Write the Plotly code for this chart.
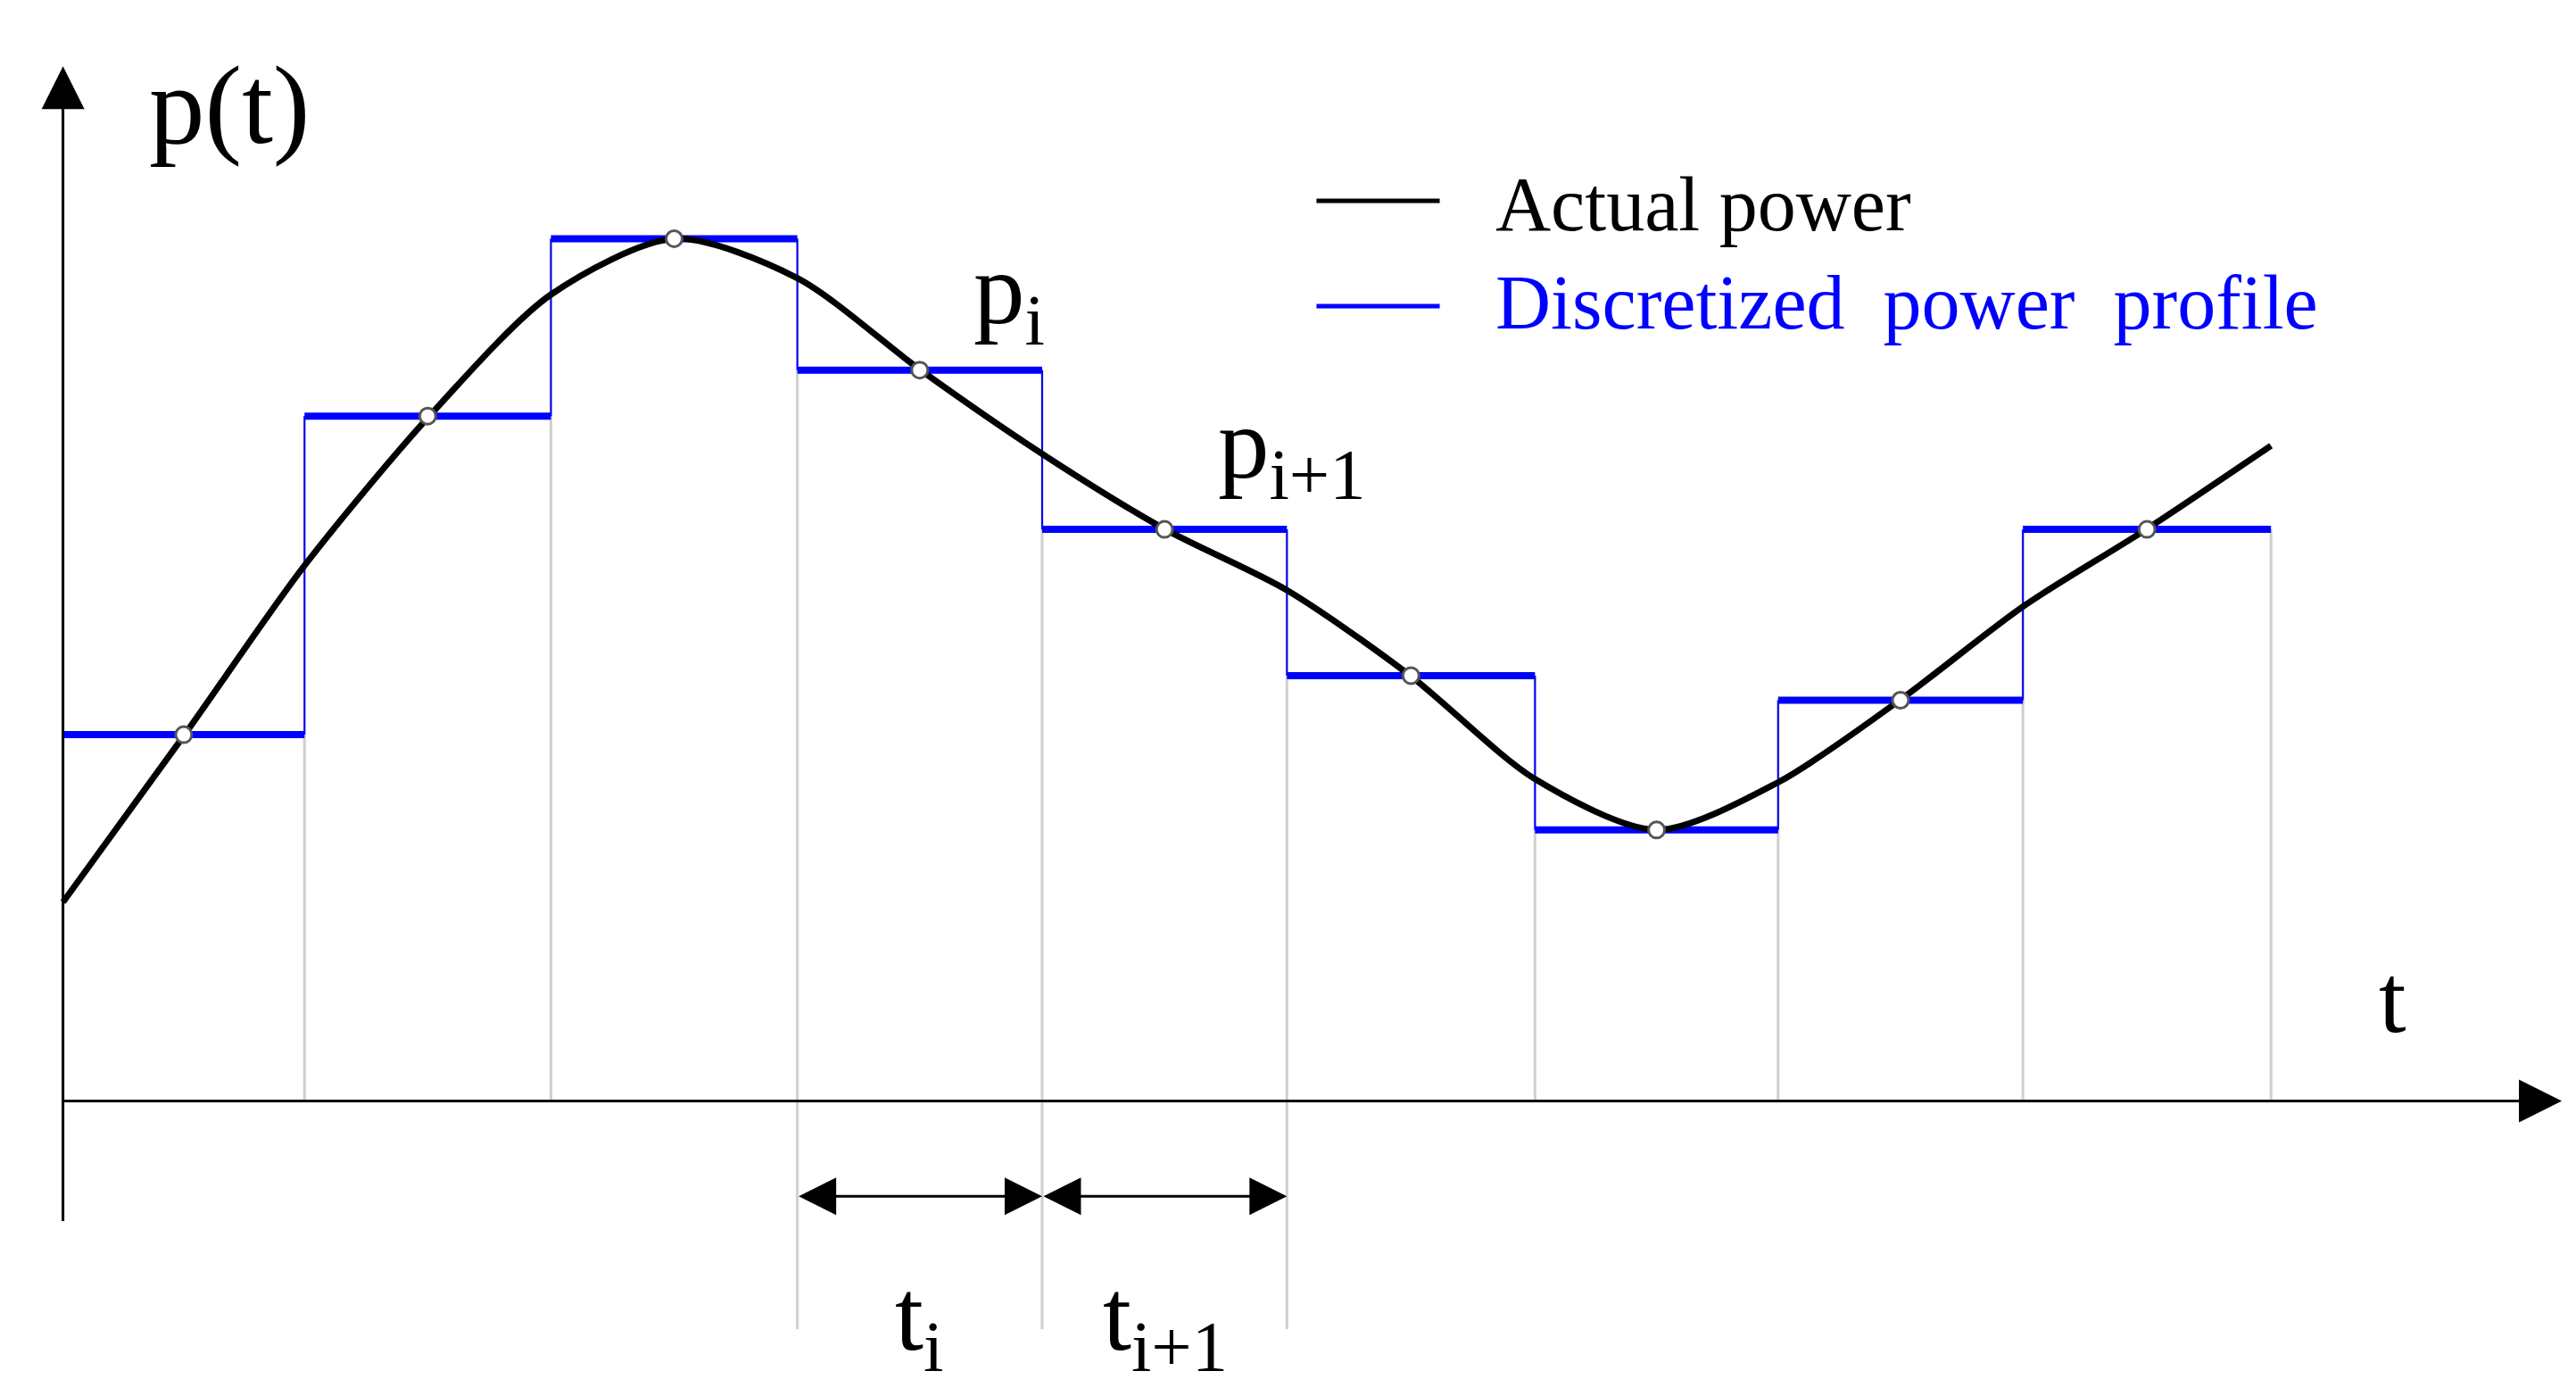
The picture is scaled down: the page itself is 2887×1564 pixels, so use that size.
import plotly.graph_objects as go

# step boundaries (t) and discretized levels (p)
t_edges = [34, 181, 331, 481, 630, 779, 930, 1078, 1227, 1378]
p_levels = [223, 417, 525, 445, 348, 259, 165, 244, 348]
# actual power curve samples
curve_t = [34, 108, 181, 257, 331, 406, 481, 556, 630, 705, 779, 854, 930, 1004, 1078, 1152, 1227, 1302, 1378]
curve_p = [121, 223, 326, 417, 491, 525, 501, 445, 394, 348, 311, 259, 196, 165, 194, 244, 301, 348, 399]

W, H = 2887, 1564
fig = go.Figure()

for i, te in enumerate(t_edges):
    top = max(p_levels[max(i - 1, 0)], p_levels[min(i, len(p_levels) - 1)])
    bottom = -139 if te in (481, 630, 779) else 0
    fig.add_shape(type="line", x0=te, x1=te, y0=bottom, y1=top,
                  line=dict(color="#cfcfcf", width=3), layer="below")

for i, p in enumerate(p_levels):
    fig.add_trace(go.Scatter(x=[t_edges[i], t_edges[i + 1]], y=[p, p], mode="lines",
                             line=dict(color="#0000ff", width=8), showlegend=False))
for i in range(1, len(p_levels)):
    fig.add_trace(go.Scatter(x=[t_edges[i], t_edges[i]], y=[p_levels[i - 1], p_levels[i]],
                             mode="lines", line=dict(color="#0000ff", width=2), showlegend=False))

fig.add_trace(go.Scatter(x=curve_t, y=curve_p, mode="lines",
                         line=dict(color="black", width=7, shape="spline", smoothing=0.8),
                         showlegend=False))
mid_t = [(t_edges[i] + t_edges[i + 1]) / 2 for i in range(len(p_levels))]
fig.add_trace(go.Scatter(x=mid_t, y=p_levels, mode="markers",
                         marker=dict(color="white", size=18, line=dict(color="#555", width=3)), showlegend=False))

font = "Liberation Serif, DejaVu Serif, serif"
def arrow(x0, y0, x1, y1, side="end", size=1.0, width=3):
    fig.add_annotation(x=x1, y=y1, ax=x0, ay=y0, xref="x", yref="y", axref="x", ayref="y",
                       showarrow=True, arrowhead=2, arrowsize=size, arrowwidth=width,
                       arrowside=side, arrowcolor="black", text="")

arrow(34, -74, 34, 630, size=3.2, width=3)
arrow(34, 0, 1555, 0, size=3.2, width=3)
arrow(481, -58, 630, -58, side="end+start", size=2.8)
arrow(630, -58, 779, -58, side="end+start", size=2.8)

def txt(x, y, s, size, color="black"):
    fig.add_annotation(x=x, y=y, text=s, showarrow=False, xref="x", yref="y",
                       font=dict(family=font, size=size, color=color))

txt(135, 606, "p(t)", 125)
txt(1452, 62, "t", 110)
txt(610, 490, "p<sub>i</sub>", 115)
txt(782, 396, "p<sub>i+1</sub>", 115)
txt(555, -135, "t<sub>i</sub>", 115)
txt(705, -135, "t<sub>i+1</sub>", 115)

fig.add_shape(type="line", x0=797, x1=872, y0=548, y1=548, line=dict(color="black", width=5))
fig.add_shape(type="line", x0=797, x1=872, y0=484, y1=484, line=dict(color="#0000ff", width=5))
fig.add_annotation(x=905, y=546, text="Actual power", showarrow=False, xanchor="left",
                   font=dict(family=font, size=86, color="black"))
fig.add_annotation(x=905, y=486, text="Discretized  power  profile", showarrow=False, xanchor="left",
                   font=dict(family=font, size=86, color="#0000ff"))

fig.update_xaxes(range=[0, 1568], visible=False)
fig.update_yaxes(range=[-184, 666], visible=False)
fig.update_layout(width=W, height=H, margin=dict(l=0, r=0, t=0, b=0),
                  plot_bgcolor="white", paper_bgcolor="white")
fig.write_html("out.html")
